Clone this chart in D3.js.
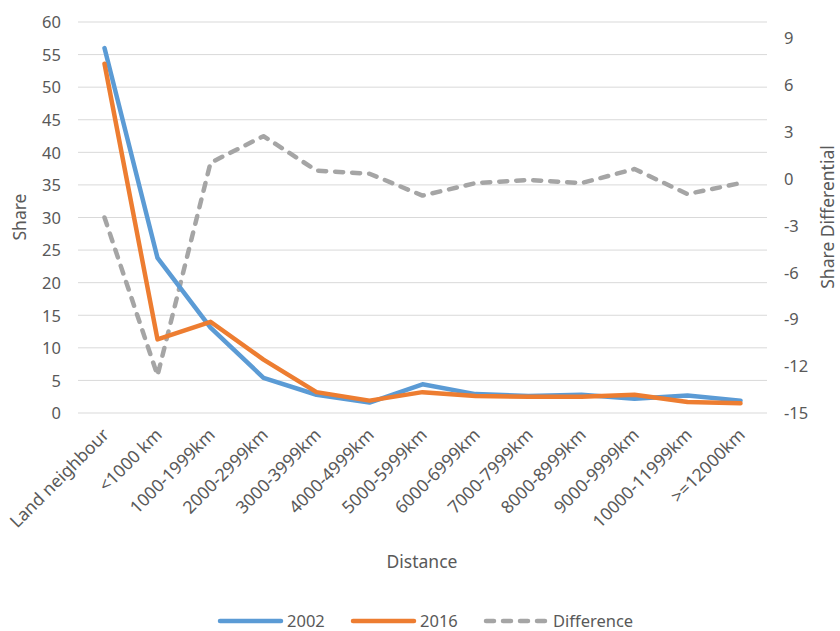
<!DOCTYPE html>
<html><head><meta charset="utf-8">
<script src="https://cdn.jsdelivr.net/npm/d3@7"></script>
<style>body{margin:0;background:#fff;} text{font-family:"Noto Sans","Open Sans",sans-serif;fill:#595959;}</style>
</head><body><svg id="c" width="840" height="631"></svg>
<script>
const categories = ["Land neighbour","<1000 km","1000-1999km","2000-2999km","3000-3999km","4000-4999km","5000-5999km","6000-6999km","7000-7999km","8000-8999km","9000-9999km","10000-11999km",">=12000km"];
const share2002 = [56.0, 23.8, 13.1, 5.4, 2.8, 1.6, 4.4, 2.9, 2.6, 2.8, 2.2, 2.7, 1.9];
const share2016 = [53.6, 11.3, 14.0, 8.2, 3.2, 1.9, 3.2, 2.6, 2.5, 2.5, 2.8, 1.7, 1.5];
const difference = [-2.5, -12.6, 1.0, 2.7, 0.5, 0.3, -1.1, -0.3, -0.1, -0.3, 0.6, -1.0, -0.3];
const leftTicks = [0,5,10,15,20,25,30,35,40,45,50,55,60];
const rightTicks = [-15,-12,-9,-6,-3,0,3,6,9];

const svg = d3.select("#c");
const L = 78, R = 767, T = 22, B = 413;
const x = d3.scalePoint().domain(categories).range([L, R]).padding(0.5);
const y = d3.scaleLinear().domain([0, 60]).range([B, T]);
const y2 = d3.scaleLinear().domain([-15, 10]).range([B, T]);

// gridlines
svg.append("g").selectAll("line").data(leftTicks).join("line")
  .attr("x1", L).attr("x2", R).attr("y1", d => y(d)).attr("y2", d => y(d))
  .attr("stroke", "#D9D9D9").attr("stroke-width", 1);

// left axis
const gl = svg.append("g").attr("transform", `translate(${L},0)`)
  .call(d3.axisLeft(y).tickValues(leftTicks).tickSize(0).tickPadding(17));
gl.select(".domain").remove();
gl.selectAll("text").attr("font-size", 16.5).attr("fill", "#595959").attr("dy", "0.35em");

// right axis
const gr = svg.append("g").attr("transform", `translate(${R},0)`)
  .call(d3.axisRight(y2).tickValues(rightTicks).tickFormat(d => String(d)).tickSize(0).tickPadding(17));
gr.select(".domain").remove();
gr.selectAll("text").attr("font-size", 16.5).attr("fill", "#595959").attr("dy", "0.35em");

// x axis labels
const gx = svg.append("g").attr("transform", `translate(0,${B})`)
  .call(d3.axisBottom(x).tickSize(0).tickPadding(0));
gx.select(".domain").remove();
gx.selectAll("text").attr("font-size", 17.5).attr("fill", "#595959")
  .attr("text-anchor", "end").attr("dy", 0)
  .attr("transform", "translate(5,23) rotate(-45)");

// axis titles
svg.append("text").attr("transform", "translate(26,217) rotate(-90)")
  .attr("text-anchor", "middle").attr("font-size", 17.5).text("Share");
svg.append("text").attr("transform", "translate(834,217) rotate(-90)")
  .attr("text-anchor", "middle").attr("font-size", 17.5).text("Share Differential");
svg.append("text").attr("x", 422).attr("y", 568)
  .attr("text-anchor", "middle").attr("font-size", 17.5).text("Distance");

// lines
const line = (sc) => d3.line().x((d, i) => x(categories[i])).y(d => sc(d));
svg.append("path").datum(difference).attr("d", line(y2))
  .attr("fill", "none").attr("stroke", "#A5A5A5").attr("stroke-width", 4.5)
  .attr("stroke-dasharray", "8,9").attr("stroke-linecap", "round").attr("stroke-linejoin", "round");
svg.append("path").datum(share2002).attr("d", line(y))
  .attr("fill", "none").attr("stroke", "#5B9BD5").attr("stroke-width", 4.5)
  .attr("stroke-linecap", "round").attr("stroke-linejoin", "round");
svg.append("path").datum(share2016).attr("d", line(y))
  .attr("fill", "none").attr("stroke", "#ED7D31").attr("stroke-width", 4.5)
  .attr("stroke-linecap", "round").attr("stroke-linejoin", "round");

// legend
const legend = [
  {name: "2002", color: "#5B9BD5", dash: null, x: 220},
  {name: "2016", color: "#ED7D31", dash: null, x: 353},
  {name: "Difference", color: "#A5A5A5", dash: "8,9", x: 486}
];
const lg = svg.append("g");
legend.forEach(d => {
  lg.append("line").attr("x1", d.x).attr("x2", d.x + 61).attr("y1", 621).attr("y2", 621)
    .attr("stroke", d.color).attr("stroke-width", 4.5).attr("stroke-linecap", "round")
    .attr("stroke-dasharray", d.dash);
  lg.append("text").attr("x", d.x + 67).attr("y", 621).attr("dy", "0.35em")
    .attr("font-size", 16.5).text(d.name);
});
</script></body></html>
